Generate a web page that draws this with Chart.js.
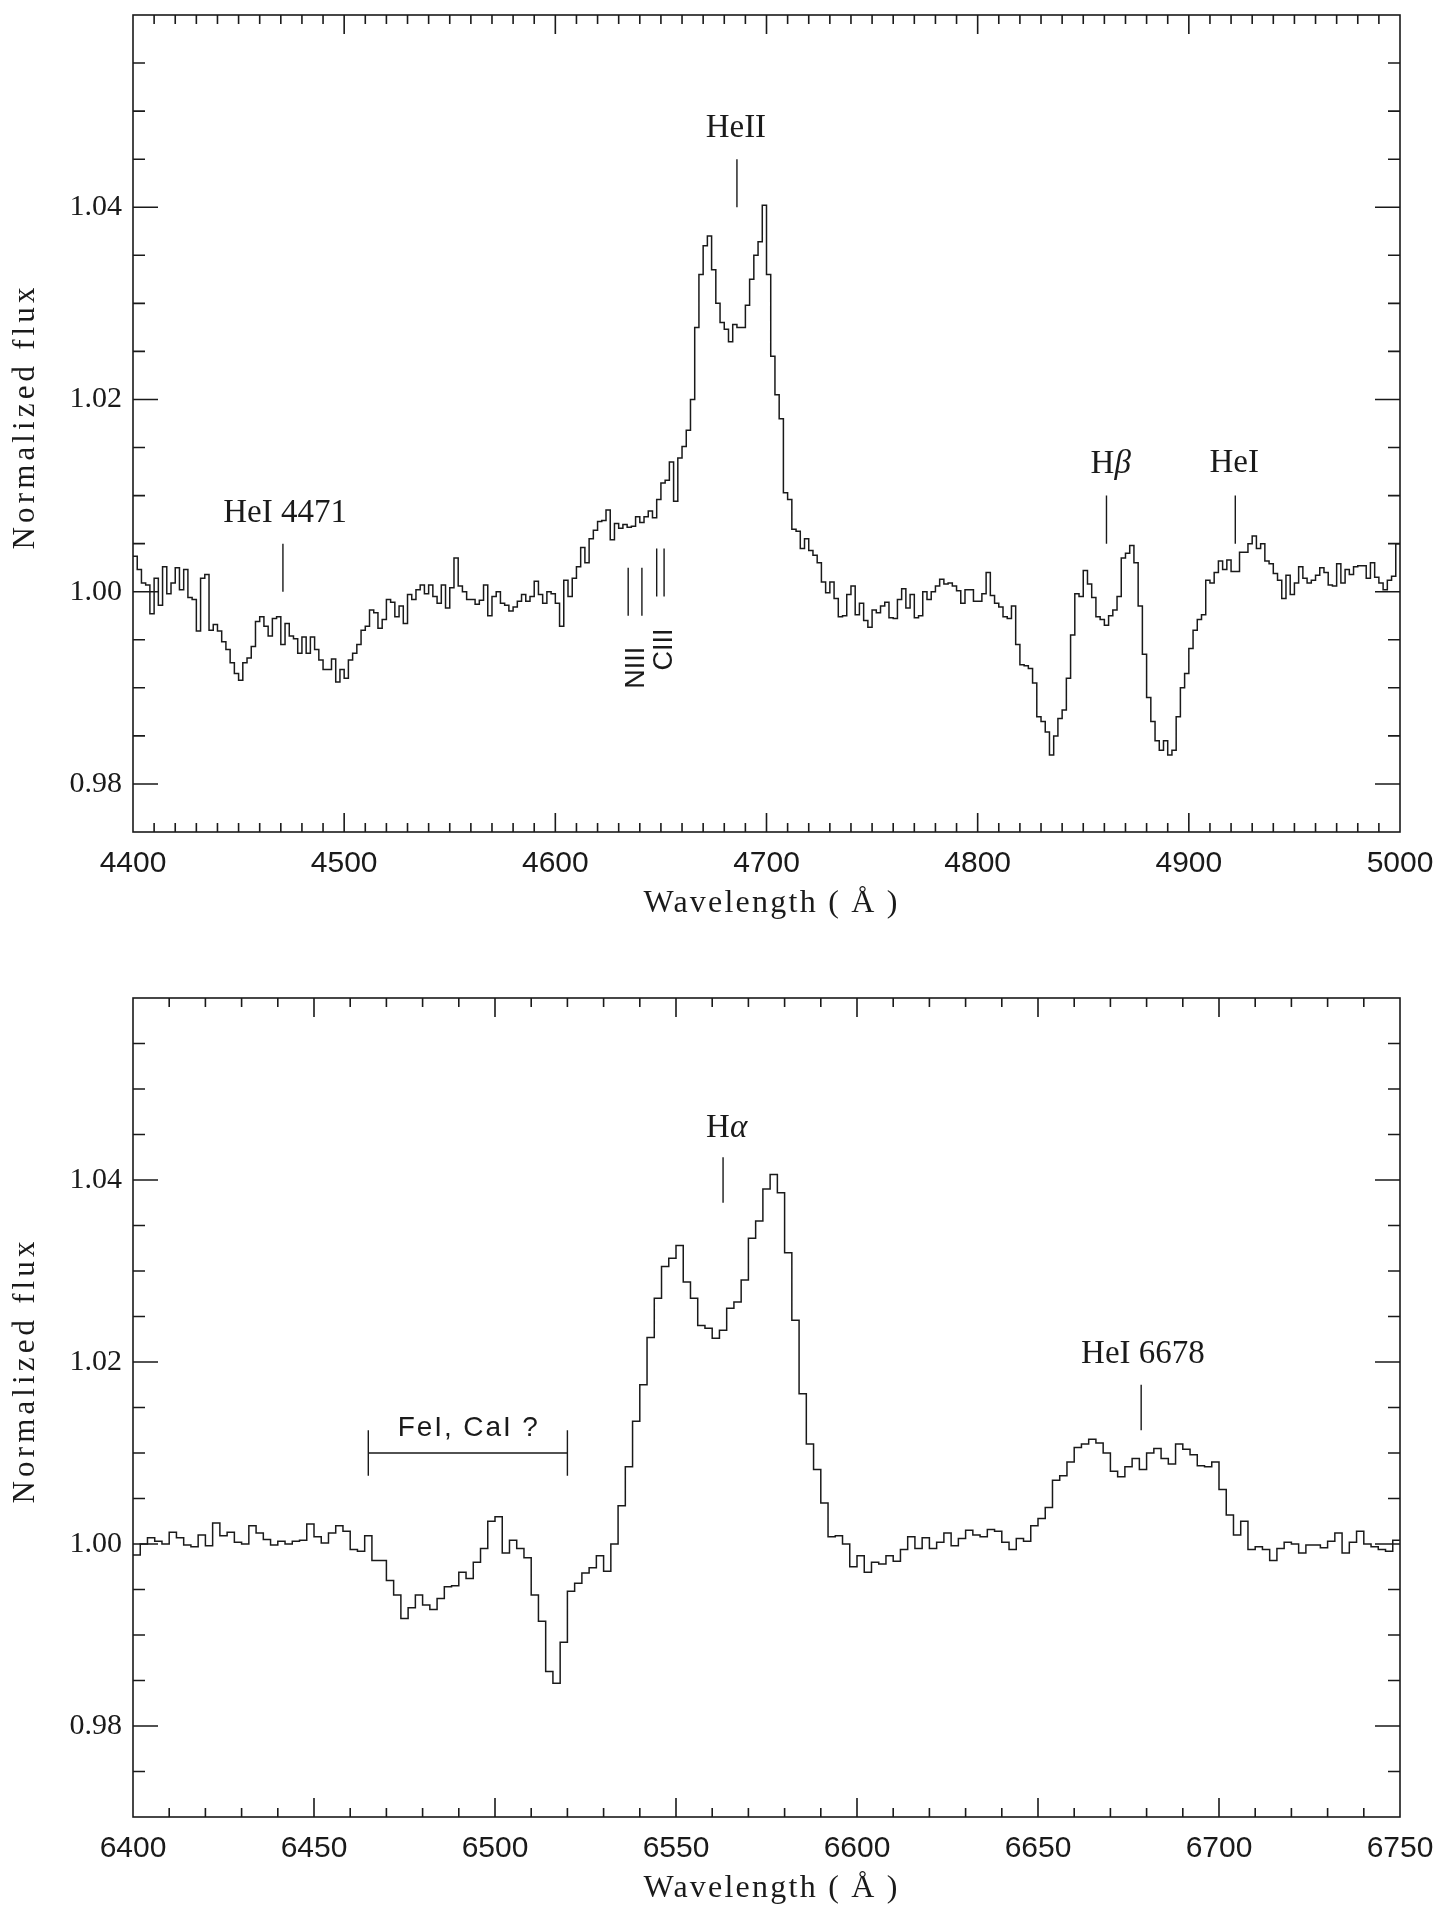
<!DOCTYPE html>
<html>
<head>
<meta charset="utf-8">
<script src="https://cdn.jsdelivr.net/npm/chart.js@4.4.1/dist/chart.umd.min.js"></script>
<style>
  html, body { margin: 0; padding: 0; background: #fff; }
  body { width: 1447px; height: 1914px; position: relative; overflow: hidden; }
  .panel { position: absolute; left: 0; width: 1447px; height: 931px; }
  #topPanel { top: 0; }
  #bottomPanel { top: 983px; }
</style>
</head>
<body>
<div class="panel" id="topPanel"><canvas id="topChart" width="1447" height="931"></canvas></div>
<div class="panel" id="bottomPanel"><canvas id="bottomChart" width="1447" height="931"></canvas></div>
<script>
// ---- data: blue spectrum, 2 A bins starting at 4400 A ----
const topStart = 4400;
const topStep = 2;
const topFlux = [
  1.0037, 1.0023, 1.0009, 1.0007, 0.9977, 1.0014, 0.9986, 1.0026, 0.9998, 1.0009,
  1.0025, 1.0002, 1.0023, 0.9994, 0.9992, 0.9959, 1.0014, 1.0018, 0.9960, 0.9966,
  0.9959, 0.9948, 0.9940, 0.9926, 0.9915, 0.9908, 0.9926, 0.9931, 0.9943, 0.9969,
  0.9974, 0.9964, 0.9954, 0.9972, 0.9974, 0.9945, 0.9967, 0.9954, 0.9951, 0.9936,
  0.9953, 0.9936, 0.9953, 0.9940, 0.9929, 0.9919, 0.9919, 0.9930, 0.9906, 0.9919,
  0.9910, 0.9929, 0.9936, 0.9945, 0.9960, 0.9964, 0.9981, 0.9978, 0.9962, 0.9971,
  0.9992, 0.9989, 0.9974, 0.9985, 0.9967, 0.9997, 0.9992, 1.0002, 1.0007, 0.9998,
  1.0007, 0.9995, 0.9988, 1.0007, 0.9983, 1.0004, 1.0035, 1.0006, 1.0000, 0.9992,
  0.9992, 0.9987, 0.9991, 1.0007, 0.9975, 0.9995, 1.0000, 0.9988, 0.9986, 0.9980,
  0.9984, 0.9990, 0.9997, 0.9990, 0.9995, 1.0011, 0.9997, 0.9988, 1.0000, 0.9998,
  0.9988, 0.9964, 1.0012, 0.9995, 1.0014, 1.0026, 1.0046, 1.0030, 1.0055, 1.0064,
  1.0073, 1.0074, 1.0085, 1.0054, 1.0071, 1.0066, 1.0070, 1.0067, 1.0068, 1.0078,
  1.0072, 1.0078, 1.0084, 1.0077, 1.0096, 1.0113, 1.0116, 1.0135, 1.0094, 1.0139,
  1.0151, 1.0168, 1.0200, 1.0275, 1.0330, 1.0360, 1.0370, 1.0335, 1.0300, 1.0280,
  1.0273, 1.0260, 1.0278, 1.0275, 1.0275, 1.0298, 1.0325, 1.0350, 1.0364, 1.0402,
  1.0330, 1.0245, 1.0205, 1.0180, 1.0103, 1.0096, 1.0065, 1.0063, 1.0045, 1.0055,
  1.0043, 1.0038, 1.0030, 1.0010, 0.9999, 1.0010, 0.9993, 0.9974, 0.9975, 0.9997,
  1.0006, 0.9976, 0.9988, 0.9970, 0.9963, 0.9981, 0.9978, 0.9985, 0.9989, 0.9973,
  0.9972, 0.9992, 1.0003, 0.9983, 0.9997, 0.9973, 0.9975, 1.0000, 0.9992, 1.0000,
  1.0006, 1.0013, 1.0008, 1.0009, 1.0006, 1.0001, 0.9988, 1.0002, 1.0002, 0.9990,
  0.9990, 0.9998, 1.0020, 0.9996, 0.9988, 0.9984, 0.9974, 0.9972, 0.9985, 0.9945,
  0.9924, 0.9923, 0.9920, 0.9905, 0.9870, 0.9865, 0.9854, 0.9830, 0.9850, 0.9868,
  0.9877, 0.9910, 0.9955, 0.9998, 0.9995, 1.0022, 1.0008, 0.9994, 0.9974, 0.9971,
  0.9965, 0.9975, 0.9981, 0.9995, 1.0035, 1.0040, 1.0048, 1.0030, 0.9985, 0.9935,
  0.9890, 0.9865, 0.9845, 0.9835, 0.9845, 0.9830, 0.9835, 0.9870, 0.9900, 0.9915,
  0.9941, 0.9960, 0.9971, 0.9976, 1.0012, 1.0009, 1.0020, 1.0032, 1.0023, 1.0033,
  1.0021, 1.0021, 1.0041, 1.0041, 1.0050, 1.0058, 1.0045, 1.0050, 1.0032, 1.0029,
  1.0019, 1.0012, 0.9993, 1.0017, 0.9997, 1.0009, 1.0026, 1.0014, 1.0009, 1.0012,
  1.0017, 1.0025, 1.0020, 1.0007, 1.0006, 1.0029, 1.0009, 1.0023, 1.0018, 1.0026,
  1.0027, 1.0027, 1.0014, 1.0030, 1.0015, 1.0009, 1.0002, 1.0012, 1.0016, 1.0050
];
const topXRange = [4400, 5000];
const topYRange = [0.975, 1.06];
const topXTicks = [4400, 4500, 4600, 4700, 4800, 4900, 5000];
const topYTicks = [0.98, 1.00, 1.02, 1.04];

// ---- data: red spectrum, 2 A bins starting at 6400 A ----
const bottomStart = 6400;
const bottomStep = 2;
const bottomFlux = [
  0.9988, 1.0000, 1.0007, 1.0003, 1.0000, 1.0013, 1.0007, 0.9999, 0.9997, 1.0010,
  0.9998, 1.0023, 1.0009, 1.0013, 1.0002, 1.0000, 1.0020, 1.0012, 1.0005, 0.9999,
  1.0003, 1.0000, 1.0003, 1.0004, 1.0022, 1.0008, 1.0001, 1.0012, 1.0020, 1.0014,
  0.9994, 0.9992, 1.0009, 0.9982, 0.9982, 0.9960, 0.9944, 0.9918, 0.9930, 0.9944,
  0.9933, 0.9928, 0.9940, 0.9953, 0.9954, 0.9969, 0.9962, 0.9980, 0.9995, 1.0025,
  1.0030, 0.9990, 1.0004, 0.9995, 0.9985, 0.9944, 0.9915, 0.9860, 0.9847, 0.9892,
  0.9948, 0.9957, 0.9968, 0.9974, 0.9987, 0.9970, 1.0000, 1.0042, 1.0085, 1.0135,
  1.0175, 1.0227, 1.0270, 1.0305, 1.0314, 1.0328, 1.0288, 1.0270, 1.0240, 1.0237,
  1.0226, 1.0235, 1.0259, 1.0266, 1.0290, 1.0336, 1.0355, 1.0390, 1.0406, 1.0386,
  1.0320, 1.0246, 1.0165, 1.0110, 1.0082, 1.0045, 1.0008, 1.0009, 1.0000, 0.9975,
  0.9987, 0.9969, 0.9980, 0.9978, 0.9987, 0.9981, 0.9994, 1.0008, 0.9995, 1.0007,
  0.9995, 1.0002, 1.0012, 0.9998, 1.0006, 1.0015, 1.0010, 1.0008, 1.0016, 1.0014,
  1.0002, 0.9994, 1.0006, 1.0003, 1.0020, 1.0028, 1.0040, 1.0070, 1.0075, 1.0090,
  1.0106, 1.0110, 1.0115, 1.0111, 1.0100, 1.0080, 1.0074, 1.0085, 1.0094, 1.0082,
  1.0100, 1.0105, 1.0094, 1.0088, 1.0110, 1.0104, 1.0098, 1.0086, 1.0085, 1.0090,
  1.0060, 1.0032, 1.0010, 1.0025, 0.9994, 0.9997, 0.9994, 0.9982, 0.9995, 1.0002,
  1.0000, 0.9990, 0.9999, 0.9999, 0.9996, 1.0003, 1.0012, 0.9990, 1.0002, 1.0014,
  1.0000, 0.9997, 0.9994, 0.9992, 1.0004
];
const bottomXRange = [6400, 6750];
const bottomYRange = [0.97, 1.06];
const bottomXTicks = [6400, 6450, 6500, 6550, 6600, 6650, 6700, 6750];
const bottomYTicks = [0.98, 1.00, 1.02, 1.04];

// line identifications: [x0, y0, x1, y1] in data units
const topMarks = [
  [4471, 1.000, 4471, 1.005],
  [4686, 1.040, 4686, 1.045],
  [4861, 1.005, 4861, 1.010],
  [4922, 1.005, 4922, 1.010],
  [4634.5, 0.9975, 4634.5, 1.0025],
  [4641, 0.9975, 4641, 1.0025],
  [4648, 0.9995, 4648, 1.0045],
  [4651.5, 0.9995, 4651.5, 1.0045]
];
const topLabels = [
  { text: 'HeI 4471', x: 4472, y: 1.0073, style: 'serif' },
  { text: 'HeII', x: 4685.5, y: 1.0473, style: 'serif' },
  { text: 'Hβ', x: 4863, y: 1.0124, style: 'greek' },
  { text: 'HeI', x: 4921.5, y: 1.0125, style: 'serif' },
  { text: 'NIII', x: 4638.3, y: 0.9921, style: 'rotated' },
  { text: 'CIII', x: 4651.8, y: 0.9940, style: 'rotated' }
];
const bottomMarks = [
  [6563, 1.0375, 6563, 1.0425],
  [6678.5, 1.0125, 6678.5, 1.0175],
  [6465, 1.010, 6520, 1.010],
  [6465, 1.0075, 6465, 1.0125],
  [6520, 1.0075, 6520, 1.0125]
];
const bottomLabels = [
  { text: 'Hα', x: 6564, y: 1.0447, style: 'greek' },
  { text: 'HeI 6678', x: 6679, y: 1.0199, style: 'serif' },
  { text: 'FeI, CaI ?', x: 6492.5, y: 1.0119, style: 'sans', width: 140 }
];

const INK = '#1a1a1a';
const SERIF = '"Liberation Serif", "DejaVu Serif", serif';
const SANS = '"Liberation Sans", "DejaVu Sans", sans-serif';
const BOX_TOP = 15;

function spectrumPoints(start, step, flux) {
  const pts = flux.map((f, i) => ({ x: start + i * step, y: f }));
  // close the last bin at its right edge
  pts.push({ x: start + flux.length * step, y: flux[flux.length - 1] });
  return pts;
}

function spacedText(ctx, text, cx, base, width, font, rotated) {
  ctx.save();
  ctx.font = font;
  ctx.letterSpacing = '0px';
  const w0 = ctx.measureText(text).width;
  ctx.letterSpacing = ((width - w0) / (text.length - 1)) + 'px';
  ctx.translate(cx, base);
  if (rotated) ctx.rotate(-Math.PI / 2);
  ctx.textAlign = 'left';
  ctx.textBaseline = 'alphabetic';
  ctx.fillText(text, -width / 2, 0);
  ctx.restore();
}

const panelDecor = {
  id: 'panelDecor',
  afterDraw(chart, args, opts) {
    const ctx = chart.ctx;
    const { left, right, top, bottom } = chart.chartArea;
    const xs = chart.scales.x, ys = chart.scales.y;
    ctx.save();
    ctx.strokeStyle = INK;
    ctx.fillStyle = INK;
    ctx.lineWidth = 1.6;
    ctx.strokeRect(left, top, right - left, bottom - top);

    // inward ticks on all four sides
    ctx.beginPath();
    const nx = Math.round((xs.max - xs.min) / opts.xMinor);
    const every = Math.round(opts.xMajor / opts.xMinor);
    for (let i = 1; i < nx; i++) {
      const px = xs.getPixelForValue(xs.min + i * opts.xMinor);
      const len = i % every === 0 ? 19 : 9;
      ctx.moveTo(px, bottom); ctx.lineTo(px, bottom - len);
      ctx.moveTo(px, top); ctx.lineTo(px, top + len);
    }
    const k0 = Math.ceil(ys.min / 0.005 - 1e-6), k1 = Math.floor(ys.max / 0.005 + 1e-6);
    for (let k = k0; k <= k1; k++) {
      const py = ys.getPixelForValue(k * 0.005);
      if (py <= top + 1 || py >= bottom - 1) continue;
      const len = k % 4 === 0 ? 25 : 12;
      ctx.moveTo(left, py); ctx.lineTo(left + len, py);
      ctx.moveTo(right, py); ctx.lineTo(right - len, py);
    }
    ctx.stroke();

    // identification marks
    ctx.lineWidth = 1.4;
    ctx.beginPath();
    opts.marks.forEach(m => {
      ctx.moveTo(xs.getPixelForValue(m[0]), ys.getPixelForValue(m[1]));
      ctx.lineTo(xs.getPixelForValue(m[2]), ys.getPixelForValue(m[3]));
    });
    ctx.stroke();

    // identification labels
    opts.labels.forEach(l => {
      const px = xs.getPixelForValue(l.x), py = ys.getPixelForValue(l.y);
      if (l.style === 'rotated') {
        ctx.save();
        ctx.translate(px, py);
        ctx.rotate(-Math.PI / 2);
        ctx.font = `27px ${SANS}`;
        ctx.textAlign = 'center';
        ctx.textBaseline = 'middle';
        ctx.fillText(l.text, 0, 0);
        ctx.restore();
      } else if (l.style === 'sans') {
        spacedText(ctx, l.text, px, py, l.width, `28px ${SANS}`, false);
      } else if (l.style === 'greek') {
        const a = l.text.slice(0, 1), b = l.text.slice(1);
        ctx.font = `33px ${SERIF}`;
        const wa = ctx.measureText(a).width;
        ctx.font = `italic 33px ${SERIF}`;
        const wb = ctx.measureText(b).width;
        const x0 = px - (wa + wb) / 2;
        ctx.textAlign = 'left';
        ctx.textBaseline = 'alphabetic';
        ctx.font = `33px ${SERIF}`;
        ctx.fillText(a, x0, py);
        ctx.font = `italic 33px ${SERIF}`;
        ctx.fillText(b, x0 + wa, py);
      } else {
        ctx.font = `33px ${SERIF}`;
        ctx.textAlign = 'center';
        ctx.textBaseline = 'alphabetic';
        ctx.fillText(l.text, px, py);
      }
    });

    // axis titles
    spacedText(ctx, 'Wavelength ( Å )', (left + right) / 2 + 4, bottom + 80, 254, `32px ${SERIF}`, false);
    spacedText(ctx, 'Normalized flux', 34, (top + bottom) / 2 + opts.yTitleShift, 262, `31px ${SERIF}`, true);
    ctx.restore();
  }
};

function makePanel(canvasId, cfg) {
  return new Chart(document.getElementById(canvasId), {
    type: 'line',
    data: {
      datasets: [{
        data: spectrumPoints(cfg.start, cfg.step, cfg.flux),
        borderColor: INK,
        borderWidth: 1.5,
        pointRadius: 0,
        stepped: 'before',
        fill: false
      }]
    },
    options: {
      responsive: false,
      animation: false,
      layout: { padding: { top: BOX_TOP, right: 47, left: 0, bottom: 0 } },
      plugins: {
        legend: { display: false },
        tooltip: { enabled: false },
        panelDecor: cfg.decor
      },
      scales: {
        x: {
          type: 'linear',
          min: cfg.xRange[0],
          max: cfg.xRange[1],
          grid: { display: false, drawTicks: false },
          border: { display: false },
          afterFit: s => {
            s.height = cfg.xAxisHeight;
            s.paddingLeft = 0;
            s.paddingRight = 0;
          },
          afterBuildTicks: s => { s.ticks = cfg.xTicks.map(v => ({ value: v })); },
          ticks: {
            font: { family: SANS, size: 30 },
            color: INK,
            padding: 14,
            maxRotation: 0,
            autoSkip: false,
            callback: v => String(v)
          }
        },
        y: {
          type: 'linear',
          min: cfg.yRange[0],
          max: cfg.yRange[1],
          grid: { display: false, drawTicks: false },
          border: { display: false },
          afterFit: s => {
            s.width = 133;
            s.paddingTop = 0;
            s.paddingBottom = 0;
          },
          afterBuildTicks: s => { s.ticks = cfg.yTicks.map(v => ({ value: v })); },
          ticks: {
            font: { family: SERIF, size: 30 },
            color: INK,
            padding: 11,
            callback: v => v.toFixed(2)
          }
        }
      }
    },
    plugins: [panelDecor]
  });
}

makePanel('topChart', {
  start: topStart, step: topStep, flux: topFlux,
  xRange: topXRange, yRange: topYRange, xTicks: topXTicks, yTicks: topYTicks,
  xAxisHeight: 931 - BOX_TOP - 817,
  decor: { xMinor: 10, xMajor: 100, marks: topMarks, labels: topLabels, yTitleShift: -5 }
});

makePanel('bottomChart', {
  start: bottomStart, step: bottomStep, flux: bottomFlux,
  xRange: bottomXRange, yRange: bottomYRange, xTicks: bottomXTicks, yTicks: bottomYTicks,
  xAxisHeight: 931 - BOX_TOP - 819,
  decor: { xMinor: 10, xMajor: 50, marks: bottomMarks, labels: bottomLabels, yTitleShift: -35 }
});
</script>
</body>
</html>
